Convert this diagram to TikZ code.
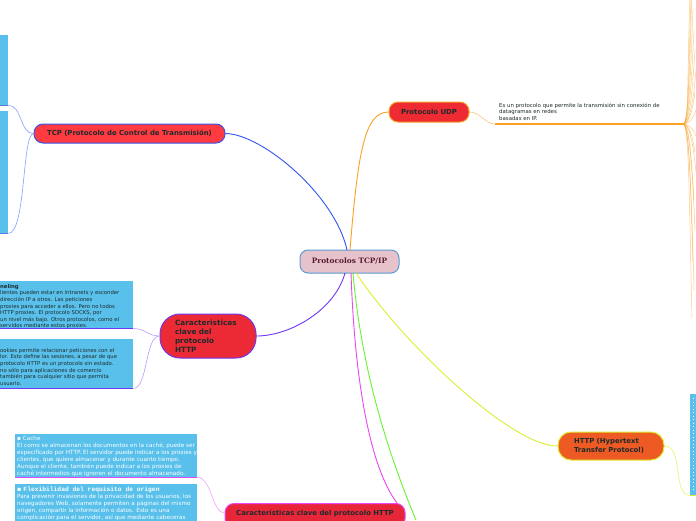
\documentclass[tikz,border=0pt]{standalone}
\usepackage{fontspec}
\setmainfont{DejaVu Sans}
\newfontfamily\monof{Liberation Mono}
\newfontfamily\titlef{DejaVu Serif}
\definecolor{boxblue}{HTML}{58C0EB}
\definecolor{txtdark}{HTML}{1E2B2B}
\definecolor{tcpred}{HTML}{FF3A40}
\definecolor{tcpblue}{HTML}{3355EE}
\definecolor{tcplight}{HTML}{82A0FF}
\definecolor{cpink}{HTML}{E6C3CB}
\definecolor{cblue}{HTML}{5B9BD5}
\definecolor{ctext}{HTML}{5A1A33}
\definecolor{udpred}{HTML}{EE2A33}
\definecolor{orangeln}{HTML}{F8A225}
\definecolor{hlred}{HTML}{EC2A35}
\definecolor{purpleln}{HTML}{7036F2}
\definecolor{btred}{HTML}{E8263A}
\definecolor{magln}{HTML}{E845F5}
\definecolor{httporg}{HTML}{EE5A24}
\definecolor{yelln}{HTML}{DDEE30}
\definecolor{greenln}{HTML}{66F530}
\begin{document}
\begin{tikzpicture}[x=1pt,y=-1pt,
  topic/.style={draw, line width=1pt, rounded corners=9pt, text=txtdark,
    font=\bfseries\fontsize{6.9}{8.8}\selectfont, inner sep=0pt},
  bluebox/.style={fill=boxblue, inner sep=0pt},
  boxtxt/.style={anchor=north west, inner sep=0pt, align=left, text=txtdark,
    font=\fontsize{5.3}{6.6}\selectfont},
  wtxt/.style={anchor=north west, inner sep=0pt, align=left, text=white,
    font=\fontsize{5.7}{7}\selectfont},
  fan/.style={orangeln, line width=0.5pt, opacity=0.55}
]
\useasboundingbox (0,0) rectangle (696,520);
\fill[white] (0,0) rectangle (696,520);

% ---------- nodes ----------
\node[topic, fill=cpink, draw=cblue, rounded corners=8pt, minimum width=99, minimum height=23,
  text=ctext, font=\titlef\bfseries\fontsize{7.4}{9}\selectfont] (center) at (349.5,261.5) {Protocolos TCP/IP};

\node[topic, fill=tcpred, draw=tcpblue, minimum width=191, minimum height=19] (tcp) at (129.5,133.5) {TCP (Protocolo de Control de Transmisión)};

\node[topic, fill=udpred, draw=orangeln, minimum width=80, minimum height=20] (udp) at (429,112) {Protocolo UDP};

\node[topic, fill=hlred, draw=purpleln, rounded corners=20pt, minimum width=96, minimum height=44,
  text width=66, align=left, inner xsep=15pt, font=\bfseries\fontsize{7.3}{9}\selectfont] (httpL) at (208,336) {Caracteristicas\\clave del\\protocolo\\HTTP};

\node[topic, fill=btred, draw=magln, minimum width=180, minimum height=24, anchor=north] (httpB) at (315,503) {\raisebox{5.5pt}{Características clave del protocolo HTTP}};

\node[topic, fill=httporg, draw=yelln, rounded corners=13pt, minimum width=106, minimum height=28,
  text width=74, align=left, inner xsep=16pt] (http) at (611,446) {HTTP (Hypertext\\Transfer Protocol)};

% ---------- TCP children ----------
\node[bluebox, minimum width=8, minimum height=70, anchor=north west] (tb1) at (0,35) {};
\node[bluebox, minimum width=8, minimum height=122, anchor=north west] (tb2) at (0,111) {};
\draw[tcpblue!80, line width=1.3pt] (tb1.south west) -- (tb1.south east);
\draw[tcpblue!80, line width=1.3pt] (tb2.south west) -- (tb2.south east);
\draw[tcplight, line width=0.6pt] (tcp.west) .. controls (20,134) and (22,105) .. (tb1.south east);
\draw[tcplight, line width=0.6pt] (tcp.west) .. controls (22,134) and (26,233) .. (tb2.south east);

% ---------- UDP child ----------
\node[anchor=north west, inner sep=0pt, align=left, text=txtdark, font=\fontsize{5.4}{6.6}\selectfont] (udptxt) at (499,102.5)
  {Es un protocolo que permite la transmisión sin conexión de\\datagramas en redes\\[0.6pt]basadas en IP.};
\coordinate (udpstart) at (495,124);
\coordinate (udpend) at (683,124);
\draw[orangeln!60, line width=0.6pt] (udp.east) .. controls (480,112) and (485,124) .. (udpstart);
\draw[orangeln, line width=1.5pt] (udpstart) -- (udpend);
\foreach \xx/\yy in {690/-5,691/0,692/-10,693/10,694/30,695/50,696/70,695/92,696/110,
                      696/136,695/152,696/172,694/200,695/230,693/262,694/290,692/318}{
  \draw[fan] (udpend) .. controls (689,124) and (\xx-3,{124+(\yy-124)*0.35}) .. (\xx,\yy);
}

% ---------- left HTTP children ----------
\node[bluebox, minimum width=133, minimum height=47, anchor=north west] (ba) at (0,281) {};
\node[bluebox, minimum width=133, minimum height=49, anchor=north west] (bb) at (0,339) {};
\draw[purpleln, line width=1.5pt] (ba.south west) -- (ba.south east);
\draw[purpleln, line width=1.5pt] (bb.south west) -- (bb.south east);
\node[boxtxt] (batxt) at (0,284) {\textbf{neling}\\
lientes pueden estar en intranets y esconder\\
 dirección IP a otros. Las peticiones\\
 proxies para acceder a ellos. Pero no todos\\
HTTP proxies. El protocolo SOCKS, por\\
 un nivel más bajo. Otros protocolos, como el\\
servidos mediante estos proxies.};
\node[boxtxt] (bbtxt) at (0,348) {ookies permite relacionar peticiones con el\\
lor. Esto define las sesiones, a pesar de que\\
 protocolo HTTP es un protocolo sin estado.\\
 no sólo para aplicaciones de comercio\\
 también para cualquier sitio que permita\\
usuario.};
\draw[purpleln!50, line width=0.6pt] (httpL.west) .. controls (148,336) and (146,329) .. (ba.south east);
\draw[purpleln!50, line width=0.6pt] (httpL.west) .. controls (145,336) and (148,388) .. (bb.south east);

% ---------- bottom HTTP children ----------
\node[bluebox, minimum width=182, minimum height=43, anchor=north west] (bc) at (15,434) {};
\node[bluebox, minimum width=182, minimum height=40, anchor=north west] (bd) at (15,484) {};
\draw[magln, line width=1.2pt] (bc.south west) -- (bc.south east);
\node[wtxt] (bctxt) at (17,435.5) {▪ Cache\\
El como se almacenan los documentos en la caché, puede ser\\
especificado por HTTP. El servidor puede indicar a los proxies y\\
clientes, que quiere almacenar y durante cuanto tiempo.\\
Aunque el cliente, también puede indicar a los proxies de\\
caché intermedios que ignoren el documento almacenado.};
\node[wtxt] (bdtxt) at (17,486.5) {{\fontsize{6.3}{7}\selectfont ▪ \monof\bfseries Flexibilidad del requisito de origen}\\
Para prevenir invasiones de la privacidad de los usuarios, los\\
navegadores Web, solamente permiten a páginas del mismo\\
origen, compartir la información o datos. Esto es una\\
complicación para el servidor, así que mediante cabeceras};
\draw[magln!50, line width=0.6pt] (httpB.west |- 0,513) .. controls (212,513) and (212,478) .. (bc.south east);

% ---------- right HTTP child ----------
\node[bluebox, minimum width=8, minimum height=101, anchor=north west] (br) at (690,394) {};
\draw[white, line width=1.3pt, dash pattern=on 1.3pt off 2.2pt] (693.5,398) -- (693.5,490);
\draw[yelln, line width=1.3pt] (br.south west) -- (br.south east);
\draw[yelln!70, line width=0.6pt] (http.east) .. controls (684,446) and (672,495) .. (br.south west);

% ---------- main connectors ----------
\draw[tcpblue, line width=0.9pt] (347,250) .. controls (335,195) and (262,134) .. (tcp.east);
\draw[orangeln, line width=0.9pt] (350,250) .. controls (358,150) and (365,112) .. (udp.west);
\draw[purpleln, line width=0.9pt] (345,273) .. controls (335,310) and (290,336) .. (httpL.east);
\draw[magln, line width=0.9pt] (351,273) .. controls (355,390) and (372,470) .. (397,503);
\draw[greenln, line width=0.9pt] (353,273) .. controls (362,380) and (395,470) .. (416,520);
\draw[yelln, line width=0.9pt] (356,273) .. controls (400,340) and (510,446) .. (http.west);
\end{tikzpicture}
\end{document}
